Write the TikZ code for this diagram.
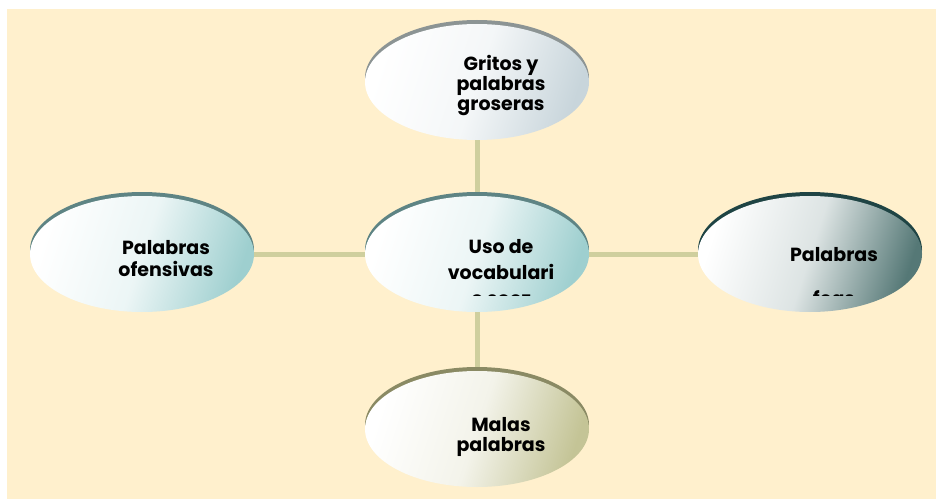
\documentclass[tikz,border=0pt]{standalone}
\usepackage{fontspec}
\setmainfont{Poppins}
\usepackage{tikz}
\usetikzlibrary{shapes.geometric}
\usetikzlibrary{shadows}
\usetikzlibrary{backgrounds}
\definecolor{paper}{HTML}{FFF0CD}
\definecolor{linkkhaki}{HTML}{CFCF9E}
\definecolor{rimgray}{HTML}{8C9494}
\definecolor{rimteal}{HTML}{5E8484}
\definecolor{rimdark}{HTML}{1F4444}
\definecolor{rimolive}{HTML}{8A8A64}
\definecolor{shadegray}{HTML}{C8D5DB}
\definecolor{shadeteal}{HTML}{9ECFCF}
\definecolor{shadedark}{HTML}{557876}
\definecolor{shadeolive}{HTML}{C4C496}
\tikzset{
	bubble/.style={ellipse, minimum width=224pt, minimum height=116pt, inner sep=0pt,
		top color=white, bottom color=#1, middle color=white!80!#1, shading angle=72},
	rim/.style={general shadow={shadow xshift=0pt, shadow yshift=4pt, fill=#1}},
	words/.style={font=\fontsize{19}{20}\selectfont\bfseries, align=center, inner sep=0pt},
	link/.style={draw=linkkhaki, line width=5pt}
}

\begin{document}
\begin{tikzpicture}[x=1pt, y=1pt]
		\useasboundingbox (0,0) rectangle (936,499);
		% Ellipses
		\node[bubble=shadegray, rim=rimgray] (gritos) at (477,417) {};
		\node[bubble=shadeteal, rim=rimteal] (vocab) at (477,245) {};
		\node[bubble=shadeteal, rim=rimteal] (ofensivas) at (142,245) {};
		\node[bubble=shadedark, rim=rimdark] (feas) at (810,245) {};
		\node[bubble=shadeolive, rim=rimolive] (malas) at (477,70) {};
		% Paper and links
		\begin{scope}[on background layer]
			\fill[paper] (7,0) rectangle (936,490);
			\draw[link] (ofensivas) -- (vocab);
			\draw[link] (vocab) -- (feas);
			\draw[link] (gritos) -- (vocab);
			\draw[link] (vocab) -- (malas);
		\end{scope}
		% Texts
		\node[words] (gritostext) at ([xshift=24pt,yshift=-4pt]gritos.center) {Gritos y\\palabras\\groseras};
		\node[words, font=\fontsize{19}{22}\selectfont\bfseries] (ofensivastext)
			at ([xshift=24pt,yshift=-5pt]ofensivas.center) {Palabras\\ofensivas};
		\node[words] (malastext) at ([xshift=24pt,yshift=-8pt]malas.center) {Malas\\palabras};
		\begin{scope}
			\clip (7,204) rectangle (936,490);
			\node[words, font=\fontsize{19}{26}\selectfont\bfseries] (vocabtext)
				at ([xshift=24pt,yshift=-19pt]vocab.center) {Uso de\\vocabulari\\o soez};
			\node[words, font=\fontsize{19}{44}\selectfont\bfseries] (feastext)
				at ([xshift=24pt,yshift=-23pt]feas.center) {Palabras\\feas};
		\end{scope}
\end{tikzpicture}
\end{document}
